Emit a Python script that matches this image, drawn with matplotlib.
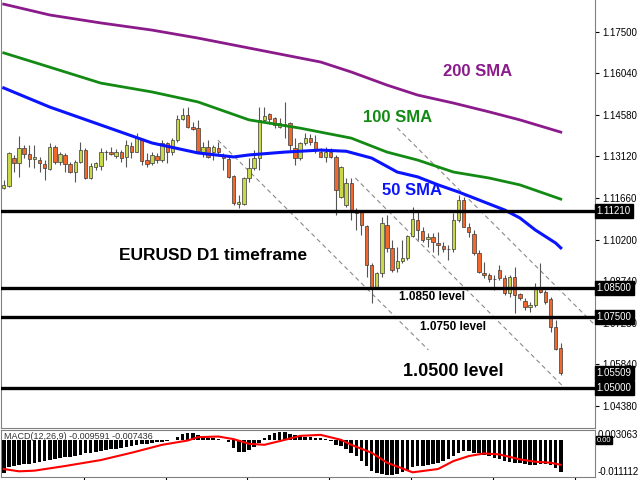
import numpy as np
import matplotlib.pyplot as plt

# --- candle data (EURUSD D1) ---
opens = [1.1201, 1.1208, 1.1306, 1.1289, 1.1341, 1.1320, 1.1303, 1.1299, 1.1285, 1.1268,
         1.1345, 1.1292, 1.1317, 1.1285, 1.1257, 1.1292, 1.1334, 1.1236, 1.1275, 1.1278,
         1.1326, 1.1327, 1.1313, 1.1327, 1.1310, 1.1348, 1.1327, 1.1373, 1.1299, 1.1289,
         1.1313, 1.1299, 1.1359, 1.1327, 1.1369, 1.1443, 1.1457, 1.1415, 1.1411, 1.1327,
         1.1345, 1.1327, 1.1341, 1.1317, 1.1303, 1.1243, 1.1145, 1.1145, 1.1236, 1.1271,
         1.1306, 1.1440, 1.1461, 1.1447, 1.1415, 1.1422, 1.1429, 1.1341, 1.1306, 1.1359,
         1.1376, 1.1362, 1.1327, 1.1310, 1.1327, 1.1310, 1.1169, 1.1141, 1.1219, 1.1124,
         1.1117, 1.1068, 1.0931, 1.0854, 1.0903, 1.1071, 1.0991, 1.0920, 1.0945, 1.0955,
         1.1033, 1.1089, 1.1050, 1.1022, 1.1029, 1.1008, 1.0998, 1.0987, 1.0987, 1.1089,
         1.1159, 1.1064, 1.1040, 1.0973, 1.0903, 1.0896, 1.0882, 1.0913, 1.0885, 1.0833,
         1.0889, 1.0829, 1.0805, 1.0784, 1.0791, 1.0850, 1.0836, 1.0812, 1.0713, 1.0640]
highs = [1.1229, 1.1327, 1.1317, 1.1383, 1.1352, 1.1352, 1.1352, 1.1310, 1.1299, 1.1359,
         1.1352, 1.1327, 1.1324, 1.1292, 1.1299, 1.1362, 1.1341, 1.1289, 1.1292, 1.1341,
         1.1334, 1.1345, 1.1338, 1.1334, 1.1369, 1.1362, 1.1394, 1.1376, 1.1324, 1.1327,
         1.1324, 1.1369, 1.1362, 1.1376, 1.1457, 1.1482, 1.1485, 1.1433, 1.1440, 1.1362,
         1.1369, 1.1352, 1.1362, 1.1324, 1.1310, 1.1247, 1.1176, 1.1240, 1.1306, 1.1334,
         1.1485, 1.1485, 1.1464, 1.1450, 1.1447, 1.1503, 1.1433, 1.1376, 1.1362, 1.1394,
         1.1390, 1.1387, 1.1341, 1.1345, 1.1341, 1.1317, 1.1278, 1.1236, 1.1236, 1.1131,
         1.1124, 1.1071, 1.0938, 1.0906, 1.1099, 1.1106, 1.1019, 1.0994, 1.1019, 1.1036,
         1.1134, 1.1124, 1.1064, 1.1043, 1.1043, 1.1047, 1.1012, 1.1001, 1.1113, 1.1176,
         1.1169, 1.1078, 1.1054, 1.0984, 1.0941, 1.0903, 1.0896, 1.0931, 1.0896, 1.0896,
         1.0924, 1.0833, 1.0815, 1.0801, 1.0868, 1.0938, 1.0843, 1.0819, 1.0738, 1.0657]
lows = [1.1198, 1.1205, 1.1257, 1.1240, 1.1306, 1.1275, 1.1271, 1.1257, 1.1229, 1.1264,
        1.1285, 1.1282, 1.1257, 1.1254, 1.1222, 1.1289, 1.1233, 1.1233, 1.1264, 1.1264,
        1.1299, 1.1317, 1.1306, 1.1292, 1.1275, 1.1306, 1.1327, 1.1282, 1.1275, 1.1282,
        1.1289, 1.1292, 1.1289, 1.1317, 1.1362, 1.1440, 1.1411, 1.1404, 1.1327, 1.1310,
        1.1306, 1.1299, 1.1317, 1.1264, 1.1236, 1.1141, 1.1131, 1.1141, 1.1222, 1.1264,
        1.1264, 1.1433, 1.1426, 1.1411, 1.1411, 1.1376, 1.1334, 1.1282, 1.1299, 1.1352,
        1.1352, 1.1324, 1.1310, 1.1292, 1.1306, 1.1106, 1.1166, 1.1134, 1.1089, 1.1054,
        1.1036, 1.0889, 1.0798, 1.0854, 1.0889, 1.0977, 1.0906, 1.0906, 1.0938, 1.0948,
        1.1029, 1.1019, 1.1012, 1.0994, 1.0977, 1.0966, 1.0977, 1.0948, 1.0977, 1.1082,
        1.1064, 1.1029, 1.0966, 1.0903, 1.0885, 1.0871, 1.0843, 1.0878, 1.0826, 1.0819,
        1.0762, 1.0808, 1.0773, 1.0766, 1.0784, 1.0833, 1.0794, 1.0696, 1.0633, 1.0545]
closes = [1.1212, 1.1324, 1.1289, 1.1341, 1.1320, 1.1303, 1.1310, 1.1289, 1.1271, 1.1345,
          1.1292, 1.1320, 1.1285, 1.1257, 1.1292, 1.1334, 1.1236, 1.1278, 1.1289, 1.1327,
          1.1327, 1.1320, 1.1327, 1.1306, 1.1352, 1.1327, 1.1380, 1.1296, 1.1285, 1.1317,
          1.1299, 1.1359, 1.1327, 1.1369, 1.1443, 1.1457, 1.1415, 1.1408, 1.1331, 1.1345,
          1.1310, 1.1345, 1.1327, 1.1306, 1.1240, 1.1148, 1.1152, 1.1236, 1.1271, 1.1306,
          1.1440, 1.1454, 1.1443, 1.1422, 1.1429, 1.1426, 1.1352, 1.1306, 1.1359, 1.1376,
          1.1362, 1.1334, 1.1310, 1.1327, 1.1310, 1.1194, 1.1275, 1.1219, 1.1124, 1.1113,
          1.1071, 1.0931, 1.0854, 1.0903, 1.1078, 1.0991, 1.0913, 1.0945, 1.0955, 1.1033,
          1.1092, 1.1054, 1.1019, 1.1029, 1.1012, 1.1001, 1.0987, 1.0987, 1.1089, 1.1159,
          1.1064, 1.1047, 1.0973, 1.0906, 1.0896, 1.0882, 1.0882, 1.0885, 1.0833, 1.0889,
          1.0826, 1.0815, 1.0784, 1.0791, 1.0854, 1.0836, 1.0801, 1.0713, 1.0636, 1.05509]

# moving averages (sampled along the curve, x = bar number)
sma_x = [0, 9, 19, 29, 38, 48, 58, 62, 68, 75, 81, 88, 95, 101, 109]
sma200 = [1.1846, 1.1808, 1.1780, 1.1755, 1.1727, 1.1692, 1.1657, 1.1643, 1.1608,
          1.1562, 1.1527, 1.1499, 1.1468, 1.1440, 1.1397]
sma100 = [1.1675, 1.1625, 1.1569, 1.1538, 1.1503, 1.1440, 1.1411, 1.1397, 1.1376,
          1.1327, 1.1299, 1.1257, 1.1236, 1.1212, 1.1162]
sma50_x = [0, 9, 19, 29, 38, 45, 48, 55, 62, 67, 72, 77, 81, 85, 89, 93, 98, 101, 104, 108, 109]
sma50 = [1.1552, 1.1485, 1.1422, 1.1359, 1.1324, 1.1310, 1.1317, 1.1327, 1.1334, 1.1330,
         1.1306, 1.1257, 1.1240, 1.1212, 1.1187, 1.1159, 1.1124, 1.1096, 1.1054, 1.1008, 1.0991]

# horizontal levels and trend channel
levels = [1.1121, 1.0850, 1.0750, 1.0500]
last_price = 1.05509
channels = [([41.9, 83.1], [1.1369, 1.0633]),
            ([68.8, 109.4], [1.1236, 1.0506]),
            ([77.0, 115.7], [1.1412, 1.0720])]
price_ticks = [1.17500, 1.16040, 1.14580, 1.13120, 1.11660,
               1.10200, 1.08740, 1.07280, 1.05840, 1.04380]

# MACD(12,26,9)
macd_hist = [-0.0100, -0.0082, -0.0078, -0.0076, -0.0073, -0.0071, -0.0068, -0.0066, -0.0064, -0.0060,
             -0.0056, -0.0054, -0.0052, -0.0050, -0.0048, -0.0044, -0.0040, -0.0038, -0.0036, -0.0033,
             -0.0030, -0.0028, -0.0026, -0.0024, -0.0022, -0.0019, -0.0015, -0.0013, -0.0011, -0.0009,
             -0.0007, -0.0005, -0.0003, -0.0001, 0.0011, 0.0019, 0.0023, 0.0023, 0.0017, 0.0011,
             0.0008, 0.0006, 0.0004, 0.0001, -0.0007, -0.0023, -0.0035, -0.0035, -0.0030, -0.0021,
             -0.0009, 0.0006, 0.0016, 0.0021, 0.0024, 0.0024, 0.0019, 0.0015, 0.0013, 0.0011,
             0.0009, 0.0007, 0.0006, 0.0003, -0.0004, -0.0014, -0.0019, -0.0026, -0.0038, -0.0048,
             -0.0063, -0.0078, -0.0092, -0.0099, -0.0102, -0.0104, -0.0105, -0.0102, -0.0097, -0.0090,
             -0.0080, -0.0078, -0.0078, -0.0076, -0.0073, -0.0068, -0.0063, -0.0056, -0.0048, -0.0038,
             -0.0033, -0.0033, -0.0038, -0.0040, -0.0044, -0.0048, -0.0053, -0.0058, -0.0063, -0.0066,
             -0.0068, -0.0070, -0.0073, -0.0076, -0.0074, -0.0073, -0.0073, -0.0076, -0.0085, -0.009591]
signal_x = [0, 3, 6, 12, 19, 25, 31, 36, 38, 42, 45, 48, 51, 55, 58, 62, 66, 68, 72, 75,
            80, 85, 88, 91, 94, 97, 101, 104, 107, 109]
signal = [-0.0087, -0.0094, -0.0092, -0.0078, -0.0060, -0.0038, -0.0014, -0.0001, 0.0009, 0.0011,
          0.0003, -0.0011, -0.0014, 0.0001, 0.0013, 0.0016, 0.0001, -0.0014, -0.0038, -0.0068,
          -0.0097, -0.0087, -0.0063, -0.0048, -0.0040, -0.0043, -0.0058, -0.0065, -0.0068, -0.007436]

plt.rcParams['font.family'] = ['Liberation Sans', 'DejaVu Sans']

fig = plt.figure(figsize=(6.4, 4.8), dpi=100)
ax = fig.add_axes([0.0016, 0.1083, 0.9281, 0.8917])
ax2 = fig.add_axes([0.0016, 0.00625, 0.9281, 0.0979])

idx = np.arange(len(opens))
o = np.array(opens); c = np.array(closes)
bull = c >= o
body_col = np.where(bull, '#c8d84a', '#f0682c')

# candles
ax.vlines(idx, lows, highs, color='#555555', lw=0.8, zorder=2)
ax.bar(idx, c - o, bottom=o, width=0.66, color=body_col, edgecolor='#3a3a3a',
       linewidth=0.5, zorder=3)

# SMAs
ax.plot(sma_x, sma200, color='#8b1a8b', lw=2.0, zorder=4)
ax.plot(sma_x, sma100, color='#138a13', lw=2.0, zorder=4)
ax.plot(sma50_x, sma50, color='#0a14ff', lw=2.2, zorder=4)

# channel lines
for cx, cy in channels:
    ax.plot(cx, cy, color='#8a8a8a', lw=0.8, ls=(0, (4, 3)), zorder=1)

# levels
for lv in levels:
    ax.axhline(lv, color='black', lw=2.4, zorder=5)

# annotations
bold = dict(fontweight='bold', ha='center', va='center', zorder=6)
ax.text(92.8, 1.1608, '200 SMA', color='#8b1a8b', fontsize=12, **bold)
ax.text(77.0, 1.1450, '100 SMA', color='#138a13', fontsize=12, **bold)
ax.text(79.9, 1.1191, '50 SMA', color='#0a14ff', fontsize=12, **bold)
ax.text(40.9, 1.0966, 'EURUSD D1 timeframe', color='black', fontsize=12.5, **bold)
ax.text(83.8, 1.0819, '1.0850 level', color='black', fontsize=8.5, **bold)
ax.text(87.9, 1.0713, '1.0750 level', color='black', fontsize=8.5, **bold)
ax.text(87.9, 1.0559, '1.0500 level', color='black', fontsize=13, **bold)

ax.set_xlim(-0.53, 115.7)
ax.set_ylim(1.03591, 1.18605)
ax.set_xticks([])
ax.yaxis.tick_right()
ax.set_yticks(price_ticks)
ax.set_yticklabels([f'{v:.5f}' for v in price_ticks])
ax.tick_params(axis='y', direction='out', length=3, width=0.8, labelsize=7, pad=2)
for s in ax.spines.values():
    s.set_color('#808080')
ax.spines['top'].set_visible(False)

# boxed price labels on the right axis
for lv in levels + [last_price]:
    ax.text(1.003, lv, f'{lv:.5f}', transform=ax.get_yaxis_transform(), color='white',
            fontsize=7, va='center', ha='left', zorder=10, clip_on=False,
            bbox=dict(boxstyle='square,pad=0.2', fc='black', ec='black'))

# MACD panel
ax2.bar(idx, macd_hist, width=0.7, color='black', zorder=2)
ax2.plot(signal_x, signal, color='red', lw=1.5, zorder=3)
ax2.set_xlim(-0.53, 115.7)
ax2.set_ylim(-0.011112, 0.003063)
ax2.set_yticks([])
ax2.set_xticks(np.arange(15.7, 115, 16))
ax2.tick_params(axis='x', direction='out', length=3, width=0.8, labelbottom=False)
for s in ax2.spines.values():
    s.set_color('#808080')
ax2.text(0.005, 0.86, 'MACD(12,26,9) -0.009591 -0.007436', transform=ax2.transAxes,
         fontsize=6.5, color='#333333', va='center', ha='left', zorder=1)
ax2.text(1.004, 0.003063, '0.003063', transform=ax2.get_yaxis_transform(),
         fontsize=7, va='top', ha='left', clip_on=False)
ax2.text(1.003, 0.0, '0.00', transform=ax2.get_yaxis_transform(), color='white',
         fontsize=5.5, va='center', ha='left', clip_on=False,
         bbox=dict(boxstyle='square,pad=0.1', fc='black', ec='black'))
ax2.text(1.004, -0.011112, '-0.011112', transform=ax2.get_yaxis_transform(),
         fontsize=7, va='bottom', ha='left', clip_on=False)

fig.savefig('out.png', dpi=100)
